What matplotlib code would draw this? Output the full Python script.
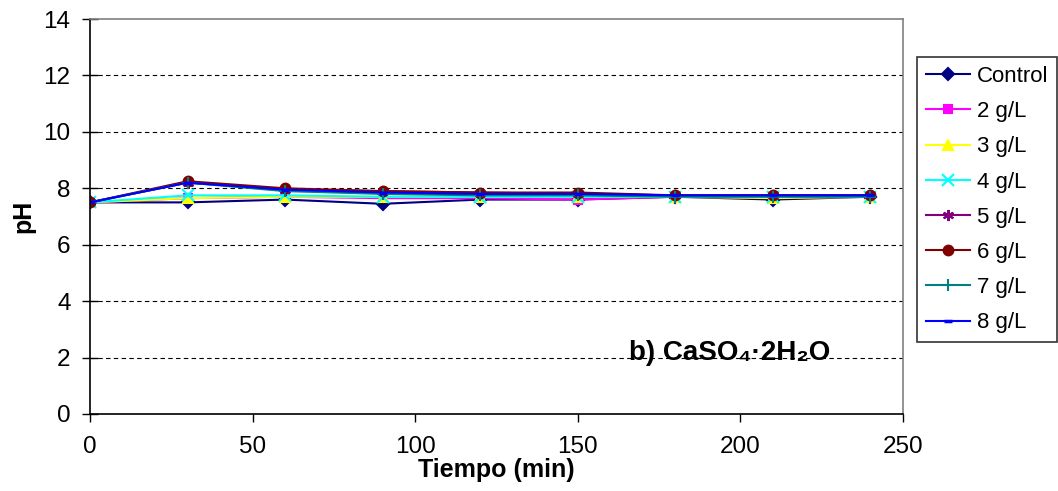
import numpy as np
import matplotlib.pyplot as plt

# Datos pH vs tiempo
tiempo = [0, 30, 60, 90, 120, 150, 180, 210, 240]
control = [7.5, 7.5, 7.6, 7.45, 7.6, 7.6, 7.7, 7.6, 7.7]
g2 = [7.5, 7.65, 7.7, 7.65, 7.65, 7.6, 7.7, 7.7, 7.7]
g3 = [7.5, 7.65, 7.7, 7.7, 7.7, 7.7, 7.7, 7.65, 7.7]
g4 = [7.5, 7.75, 7.75, 7.7, 7.7, 7.7, 7.7, 7.7, 7.7]
g5 = [7.5, 8.2, 7.95, 7.9, 7.85, 7.8, 7.75, 7.75, 7.75]
g6 = [7.5, 8.25, 8.0, 7.9, 7.85, 7.85, 7.75, 7.75, 7.75]
g7 = [7.5, 8.2, 7.9, 7.8, 7.75, 7.75, 7.7, 7.7, 7.7]
g8 = [7.5, 8.2, 7.95, 7.85, 7.8, 7.8, 7.75, 7.75, 7.75]

etiquetas = ["Control", "2 g/L", "3 g/L", "4 g/L", "5 g/L", "6 g/L", "7 g/L", "8 g/L"]
series = [control, g2, g3, g4, g5, g6, g7, g8]

colores = ["#000080", "#FF00FF", "#FFFF00", "#00FFFF", "#800080", "#800000", "#008080", "#0000FF"]
marcadores = ["D", "s", "^", "x", (6, 2, 0), "o", "+", "_"]
tamanos = [6, 6, 7, 8, 8, 7, 9, 6]

plt.rcParams['font.family'] = ['Liberation Sans', 'DejaVu Sans']

fig = plt.figure(figsize=(10.58, 4.91), dpi=100)
ax = fig.add_axes([90/1058, 1-414/491, (903-90)/1058, (414-19)/491])

for y, lab, c, m, s in zip(series, etiquetas, colores, marcadores, tamanos):
    ax.plot(tiempo, y, color=c, marker=m, markersize=s, lw=1.5,
            markeredgewidth=2.5 if m == "_" else 1.5, label=lab)

ax.set_xlim(0, 250)
ax.set_ylim(0, 14)
ax.set_xticks(range(0, 251, 50))
ax.set_yticks(range(0, 15, 2))
ax.tick_params(axis='y', direction='inout', length=12, width=1, labelsize=17.5, pad=8)
ax.tick_params(axis='x', direction='out', length=6, width=1, labelsize=17.5, pad=10)

for v in range(2, 14, 2):
    ax.axhline(v, color='black', lw=0.8, dashes=(4, 3), zorder=0)

ax.spines['left'].set_color('black')
ax.spines['bottom'].set_color('black')
ax.spines['top'].set_color('#808080')
ax.spines['right'].set_color('#808080')
for sp in ax.spines.values():
    sp.set_linewidth(1.2)

ax.set_xlabel("Tiempo (min)", fontsize=18, fontweight='bold', labelpad=0)
ax.set_ylabel("pH", fontsize=18, fontweight='bold', labelpad=6)

ax.text(196.8, 2.15, "b) CaSO₄·2H₂O", fontsize=20, fontweight='bold',
        ha='center', va='center')

leg = ax.legend(loc='upper left', bbox_to_anchor=(917/1058, 1-57/491),
                bbox_transform=fig.transFigure, borderaxespad=0,
                fontsize=16, frameon=True, fancybox=False, edgecolor='black',
                handlelength=2.0, handletextpad=0.3, labelspacing=0.64,
                borderpad=0.4)
leg.get_frame().set_linewidth(1.2)

plt.savefig('out.png', dpi=100)
